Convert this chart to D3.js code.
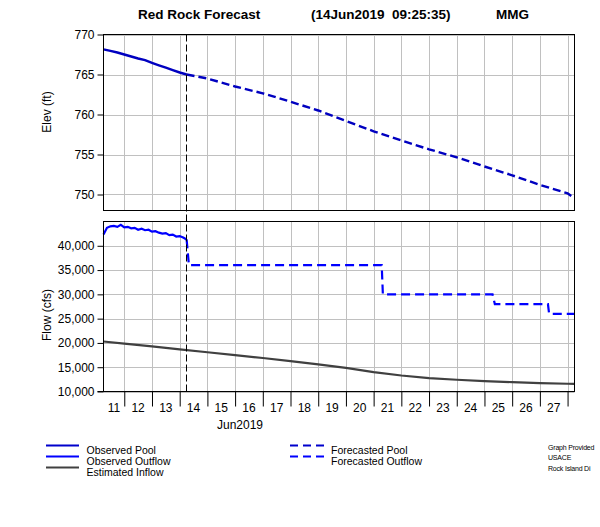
<!DOCTYPE html>
<html>
<head>
<meta charset="utf-8">
<script src="https://cdn.jsdelivr.net/npm/d3@7"></script>
<style>
  html, body { margin: 0; padding: 0; background: #fff; }
  svg { display: block; font-family: Arial, "Liberation Sans", sans-serif; }
</style>
</head>
<body>
<svg id="chart" width="600" height="527"></svg>
<script>
// ---------- DATA ----------
const titleParts = ["Red Rock Forecast", "(14Jun2019  09:25:35)", "MMG"];
const domainStart = "2019-06-11T06:00";
const domainEnd = "2019-06-28T06:00";
const currentTime = "2019-06-14T06:00";

const elevTicks = [750, 755, 760, 765, 770];
const flowTicks = [10000, 15000, 20000, 25000, 30000, 35000, 40000];

const obsPoolTimes = ["2019-06-11T06:00","2019-06-11T12:00","2019-06-11T18:00","2019-06-12T00:00",
  "2019-06-12T06:00","2019-06-12T12:00","2019-06-12T18:00","2019-06-13T00:00","2019-06-13T06:00",
  "2019-06-13T12:00","2019-06-13T18:00","2019-06-14T00:00","2019-06-14T06:00"];
const obsPoolValues = [768.15, 767.95, 767.75, 767.5, 767.25, 767.0, 766.8, 766.45, 766.15, 765.85, 765.55, 765.25, 765.0];

const fcPoolTimes = ["2019-06-14T06:00","2019-06-15T00:00","2019-06-16T00:00","2019-06-17T00:00",
  "2019-06-18T00:00","2019-06-19T00:00","2019-06-20T00:00","2019-06-21T00:00","2019-06-22T00:00",
  "2019-06-23T00:00","2019-06-24T00:00","2019-06-25T00:00","2019-06-26T00:00","2019-06-27T00:00",
  "2019-06-28T00:00","2019-06-28T06:00"];
const fcPoolValues = [765.0, 764.5, 763.5, 762.65, 761.6, 760.5, 759.2, 757.9, 756.75, 755.65, 754.65, 753.5, 752.4, 751.2, 750.15, 749.5];

const obsOutTimes = ["2019-06-11T06:00","2019-06-11T09:00","2019-06-11T12:00","2019-06-11T15:00",
  "2019-06-11T18:00","2019-06-11T21:00","2019-06-12T00:00","2019-06-12T03:00","2019-06-12T06:00",
  "2019-06-12T09:00","2019-06-12T12:00","2019-06-12T15:00","2019-06-12T18:00","2019-06-12T21:00",
  "2019-06-13T00:00","2019-06-13T03:00","2019-06-13T06:00","2019-06-13T09:00","2019-06-13T12:00",
  "2019-06-13T15:00","2019-06-13T18:00","2019-06-13T21:00","2019-06-14T00:00","2019-06-14T03:00",
  "2019-06-14T06:00"];
const obsOutValues = [42300, 43700, 44000, 44100, 43900, 44300, 43800, 43900, 43600, 43700, 43300, 43500,
  43200, 43300, 42900, 43000, 42700, 42500, 42600, 42200, 42300, 41900, 42000, 41700, 41300];

const fcOutTimes = ["2019-06-14T06:00","2019-06-14T08:00","2019-06-21T07:00","2019-06-21T08:00",
  "2019-06-25T07:00","2019-06-25T09:00","2019-06-27T07:00","2019-06-27T08:00","2019-06-28T06:00"];
const fcOutValues = [41300, 36000, 36000, 30000, 30000, 28000, 28000, 26000, 26000];

const inflowTimes = ["2019-06-11T06:00","2019-06-12T00:00","2019-06-13T00:00","2019-06-14T00:00",
  "2019-06-15T00:00","2019-06-16T00:00","2019-06-17T00:00","2019-06-18T00:00","2019-06-19T00:00",
  "2019-06-20T00:00","2019-06-21T00:00","2019-06-22T00:00","2019-06-23T00:00","2019-06-24T00:00",
  "2019-06-25T00:00","2019-06-26T00:00","2019-06-27T00:00","2019-06-28T00:00","2019-06-28T06:00"];
const inflowValues = [20300, 19850, 19280, 18680, 18080, 17500, 16900, 16250, 15600, 14850, 14000, 13300,
  12750, 12420, 12130, 11920, 11720, 11600, 11550];

const legendLeft = ["Observed Pool", "Observed Outflow", "Estimated Inflow"];
const legendRight = ["Forecasted Pool", "Forecasted Outflow"];
const creditLines = ["Graph Provided", "USACE", "Rock Island Di"];
const xAxisTitle = "Jun2019";

// ---------- SETUP ----------
const parse = d3.utcParse("%Y-%m-%dT%H:%M");
const zip = (ts, vs) => ts.map((t, i) => ({ t: parse(t), v: vs[i] }));

const svg = d3.select("#chart");
const L = 103.5, R = 574.5;
const top1 = 34.5, bot1 = 210.5;
const top2 = 221.5, bot2 = 391.5;

const x = d3.scaleUtc().domain([parse(domainStart), parse(domainEnd)]).range([L, R]);
const yE = d3.scaleLinear().domain([748, 770]).range([bot1, top1]);
const yF = d3.scaleLinear().domain([10000, 45000]).range([bot2, top2]);

const days = d3.utcDay.range(d3.utcDay.ceil(x.domain()[0]), x.domain()[1]);
const gridColor = "#c0c0c0";

// grid
function grid(yScale, ticks, t, b) {
  const g = svg.append("g");
  g.selectAll("line.v").data(days).join("line")
    .attr("x1", d => Math.round(x(d)) + 0.5).attr("x2", d => Math.round(x(d)) + 0.5)
    .attr("y1", t).attr("y2", b).attr("stroke", gridColor).attr("stroke-width", 1);
  g.selectAll("line.h").data(ticks).join("line")
    .attr("x1", L).attr("x2", R)
    .attr("y1", d => Math.round(yScale(d)) + 0.5).attr("y2", d => Math.round(yScale(d)) + 0.5)
    .attr("stroke", gridColor).attr("stroke-width", 1);
}
grid(yE, elevTicks, top1, bot1);
grid(yF, flowTicks, top2, bot2);

// series
const line = (ys) => d3.line().x(d => x(d.t)).y(d => ys(d.v));

svg.append("path").datum(zip(inflowTimes, inflowValues))
  .attr("d", line(yF)).attr("fill", "none").attr("stroke", "#404040").attr("stroke-width", 2.2);

svg.append("path").datum(zip(obsOutTimes, obsOutValues))
  .attr("d", line(yF)).attr("fill", "none").attr("stroke", "#0000ff").attr("stroke-width", 2.2);

svg.append("path").datum(zip(fcOutTimes, fcOutValues))
  .attr("d", line(yF)).attr("fill", "none").attr("stroke", "#0000ff").attr("stroke-width", 2.2)
  .attr("stroke-dasharray", "9,5");

svg.append("path").datum(zip(obsPoolTimes, obsPoolValues))
  .attr("d", line(yE)).attr("fill", "none").attr("stroke", "#0000c0").attr("stroke-width", 2.4);

svg.append("path").datum(zip(fcPoolTimes, fcPoolValues))
  .attr("d", line(yE)).attr("fill", "none").attr("stroke", "#0000c0").attr("stroke-width", 2.4)
  .attr("stroke-dasharray", "8,4");

// current time line
const cx = Math.round(x(parse(currentTime))) - 0.5;
svg.append("line").attr("x1", cx).attr("x2", cx).attr("y1", top1).attr("y2", bot2)
  .attr("stroke", "#000").attr("stroke-width", 1).attr("stroke-dasharray", "7,3");

// frames
svg.append("rect").attr("x", L).attr("y", top1).attr("width", R - L).attr("height", bot1 - top1)
  .attr("fill", "none").attr("stroke", "#000");
svg.append("rect").attr("x", L).attr("y", top2).attr("width", R - L).attr("height", bot2 - top2)
  .attr("fill", "none").attr("stroke", "#000");

// y axes
function yAxis(scale, ticks, fmt) {
  const g = svg.append("g").attr("transform", `translate(${L},0)`)
    .call(d3.axisLeft(scale).tickValues(ticks).tickSize(6).tickPadding(3).tickFormat(fmt));
  g.select(".domain").remove();
  g.selectAll(".tick line").attr("stroke", "#000");
  g.selectAll(".tick text").attr("font-size", 12).attr("fill", "#000")
    .attr("font-family", "Arial, 'Liberation Sans', sans-serif");
  return g;
}
yAxis(yE, elevTicks, d3.format("d"));
yAxis(yF, flowTicks, d3.format(","));

// x axis
const xg = svg.append("g").attr("transform", `translate(0,${bot2})`)
  .call(d3.axisBottom(x).tickValues(days).tickSize(15).tickFormat(""));
xg.select(".domain").remove();
xg.selectAll(".tick line").attr("stroke", "#000");
svg.append("line").attr("x1", L - 6).attr("x2", R).attr("y1", bot2).attr("y2", bot2).attr("stroke", "#000");

// day labels centred in each visible day interval
const dayStarts = d3.utcDay.range(d3.utcDay.floor(x.domain()[0]), x.domain()[1]);
svg.append("g").selectAll("text").data(dayStarts.filter(d => +d3.utcFormat("%d")(d) <= 27)).join("text")
  .attr("x", d => {
    const a = Math.max(x(d), L), b = Math.min(x(d3.utcDay.offset(d, 1)), R);
    return (a + b) / 2;
  })
  .attr("y", 412).attr("text-anchor", "middle").attr("font-size", 12)
  .text(d => d3.utcFormat("%d")(d));

svg.append("text").attr("x", 240).attr("y", 429).attr("text-anchor", "middle").attr("font-size", 12)
  .text(xAxisTitle);

// y titles
svg.append("text").attr("transform", "translate(51,112) rotate(-90)").attr("text-anchor", "middle")
  .attr("font-size", 12).text("Elev (ft)");
svg.append("text").attr("transform", "translate(51,315) rotate(-90)").attr("text-anchor", "middle")
  .attr("font-size", 12).text("Flow (cfs)");

// title
const titleX = [138, 311, 496];
svg.append("g").selectAll("text").data(titleParts).join("text")
  .attr("x", (d, i) => titleX[i]).attr("y", 19).attr("font-size", 13.5).attr("font-weight", "bold")
  .attr("xml:space", "preserve").style("white-space", "pre")
  .text(d => d);

// legend
const legStyles = ["#0000cc", "#0000ff", "#404040"];
const legY = [445.5, 456.5, 467.5];
legendLeft.forEach((t, i) => {
  svg.append("line").attr("x1", 46).attr("x2", 79).attr("y1", legY[i]).attr("y2", legY[i])
    .attr("stroke", legStyles[i]).attr("stroke-width", 2);
  svg.append("text").attr("x", 86.5).attr("y", legY[i] + 8).attr("font-size", 10.5).text(t);
});
const legRC = ["#0000cc", "#0000ff"];
legendRight.forEach((t, i) => {
  svg.append("line").attr("x1", 290).attr("x2", 324).attr("y1", legY[i]).attr("y2", legY[i])
    .attr("stroke", legRC[i]).attr("stroke-width", 2).attr("stroke-dasharray", "8,5");
  svg.append("text").attr("x", 331).attr("y", legY[i] + 8).attr("font-size", 10.5).text(t);
});
creditLines.forEach((t, i) => {
  svg.append("text").attr("x", 548).attr("y", 449.5 + i * 10.5).attr("font-size", 7)
    .attr("letter-spacing", -0.2).text(t);
});
</script>
</body>
</html>
